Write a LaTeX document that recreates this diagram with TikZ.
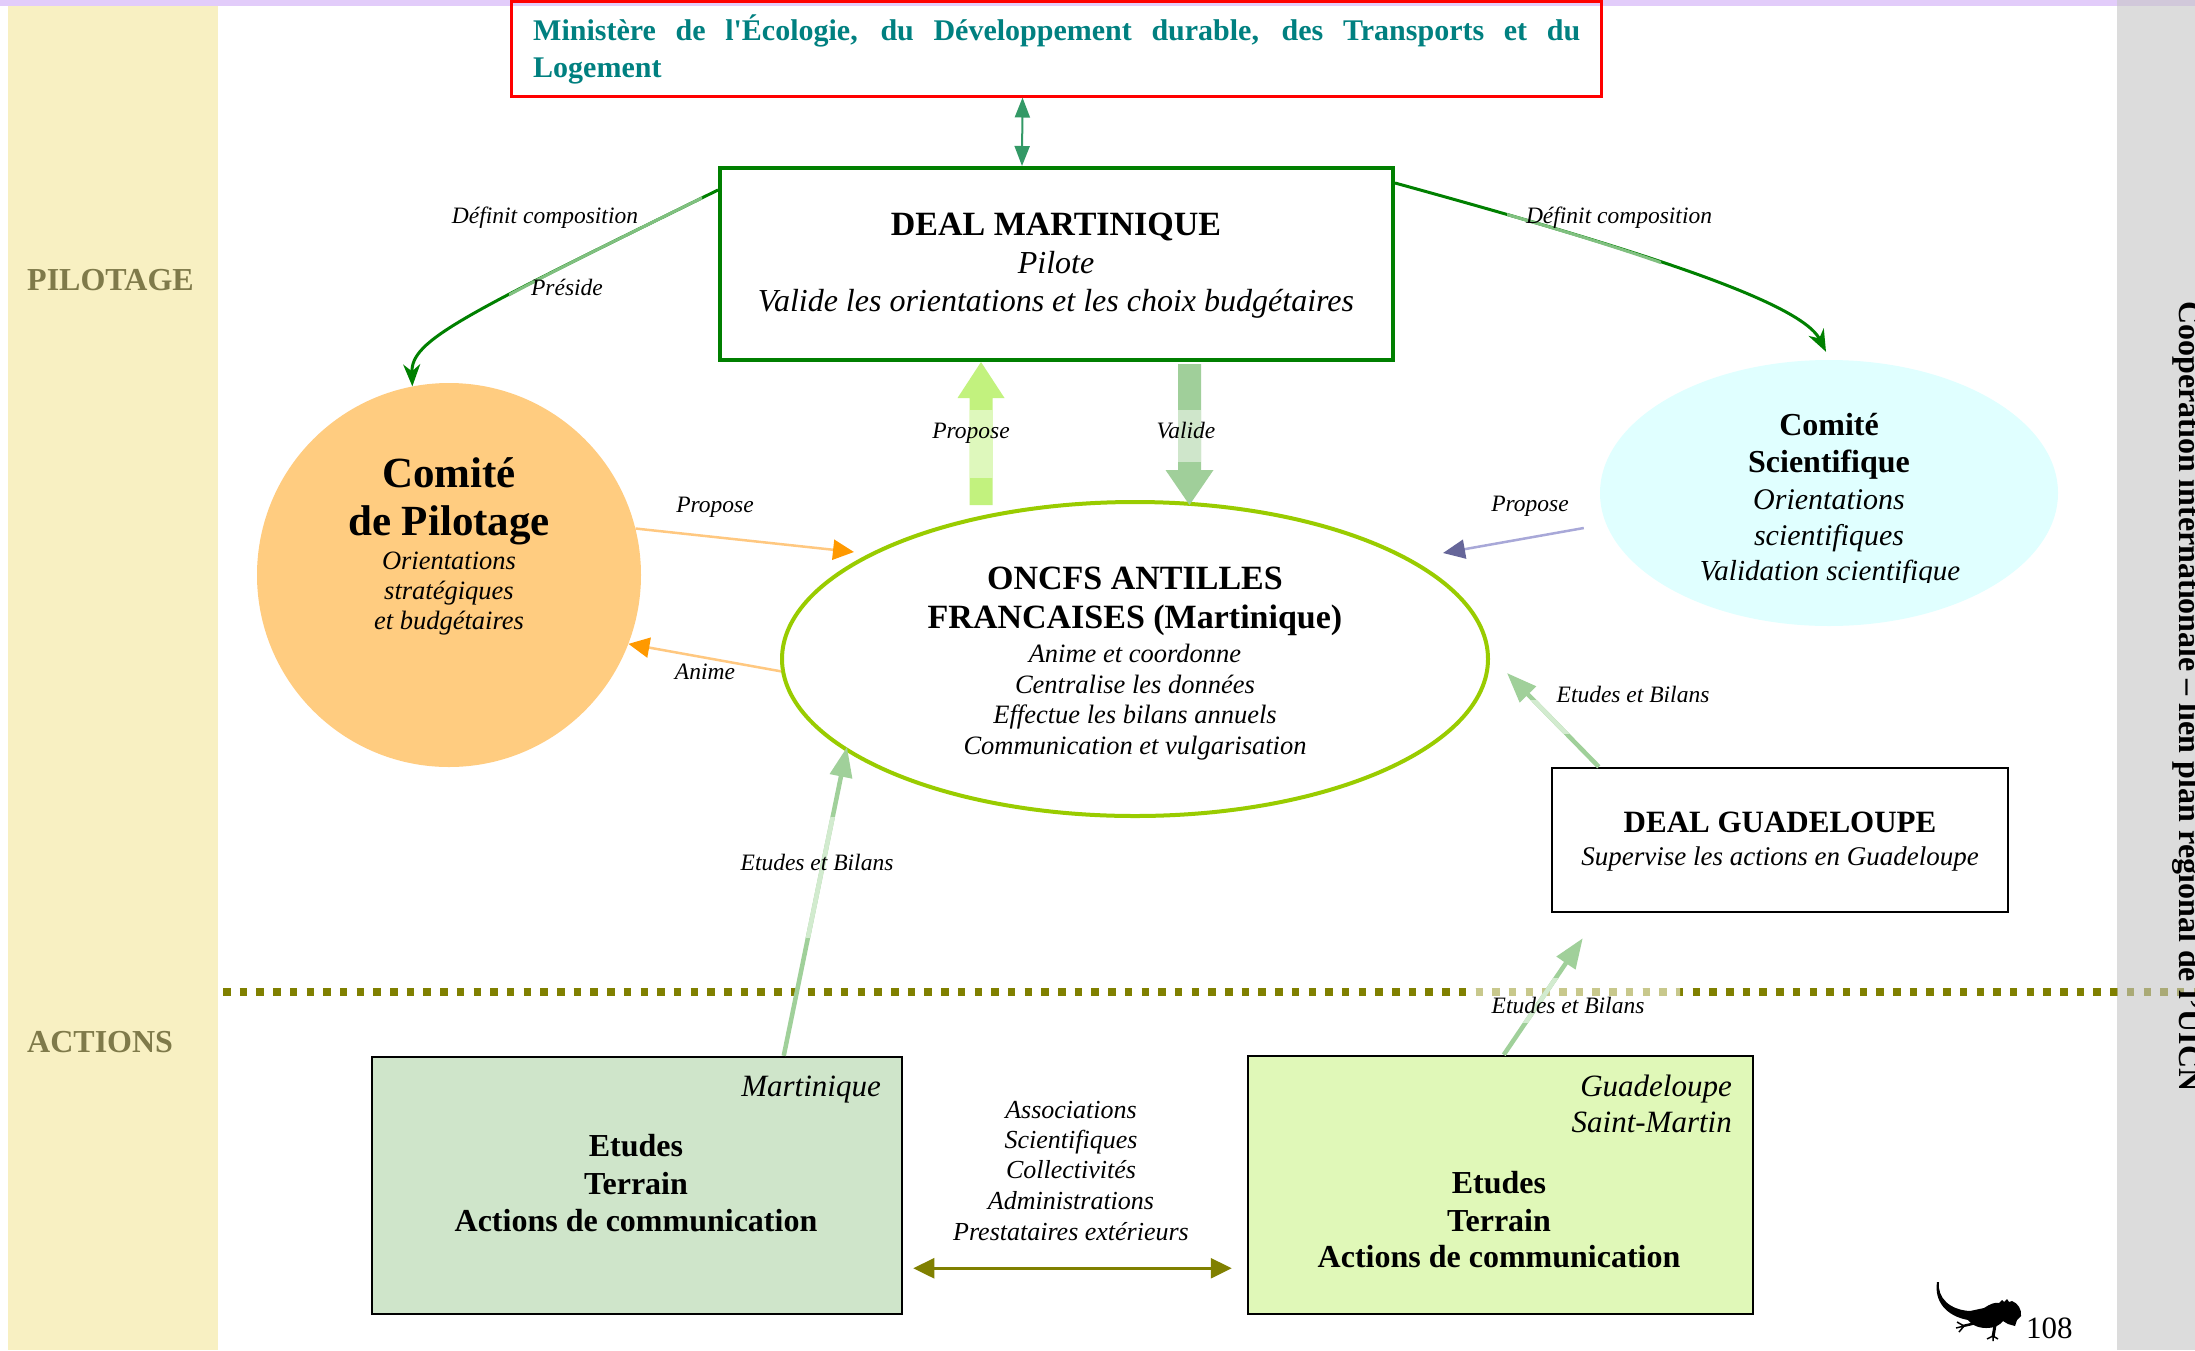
\documentclass[tikz,border=0pt]{standalone}
\usepackage{fontspec}
\setmainfont{Liberation Serif}
\usetikzlibrary{shapes.geometric,arrows.meta,calc}
\newcommand\myfs[2]{\fontsize{#1}{#2}\selectfont}
\definecolor{yband}{HTML}{F8F0C2}
\definecolor{pband}{HTML}{E2CCFA}
\definecolor{gstrip}{HTML}{C6C6C6}
\definecolor{olivec}{HTML}{808000}
\definecolor{olivel}{HTML}{C8C88C}
\definecolor{minred}{HTML}{FF0000}
\definecolor{tealtxt}{HTML}{008080}
\definecolor{dmgreen}{HTML}{007F00}
\definecolor{mdarrow}{HTML}{339966}
\definecolor{cporange}{HTML}{FFCC80}
\definecolor{onyg}{HTML}{99CC00}
\definecolor{cscyan}{HTML}{E0FFFF}
\definecolor{mqfill}{HTML}{CFE5CA}
\definecolor{gdfill}{HTML}{E0F8B8}
\definecolor{curvedark}{HTML}{008000}
\definecolor{curvelight}{HTML}{80C080}
\definecolor{orangedark}{HTML}{FF9900}
\definecolor{orangelight}{HTML}{FFC880}
\definecolor{scidark}{HTML}{666699}
\definecolor{scilight}{HTML}{A8A8D8}
\definecolor{ebdark}{HTML}{A0D09A}
\definecolor{eblight}{HTML}{D2EBCF}
\definecolor{propc}{HTML}{C2F27E}
\definecolor{propl}{HTML}{DEF8BC}
\definecolor{valc}{HTML}{A0CF9A}
\definecolor{vall}{HTML}{CFE6CB}
\definecolor{sidetxt}{HTML}{7F7A4A}
\tikzset{
  txt/.style={inner sep=0pt, anchor=base},
  lbl/.style={inner sep=0pt, anchor=base, font=\myfs{23.5}{28}\itshape},
  boxnode/.style={rectangle, inner sep=0pt},
  sepline/.style={line width=8pt, dash pattern=on 7.5pt off 9.2pt},
  defcurve/.style={curvedark, line width=3pt},
  defcurvel/.style={curvelight, line width=3pt},
  orangearrow/.style={orangelight, line width=2.5pt, -{Triangle[width=20pt,length=21pt,color=orangedark]}},
  sciarrow/.style={scilight, line width=2.5pt, -{Triangle[width=19pt,length=22pt,color=scidark]}},
  ebarrow/.style={ebdark, line width=4.5pt, -{Triangle[width=22pt,length=30pt]}},
  ebl/.style={eblight, line width=4.5pt},
  minarrow/.style={mdarrow, line width=2pt, {Triangle[width=15pt,length=20pt]}-{Triangle[width=15pt,length=20pt]}},
  olivearrow/.style={olivec, line width=2.5pt, {Triangle[width=20pt,length=21pt]}-{Triangle[width=20pt,length=21pt]}},
}
\begin{document}
\begin{tikzpicture}[x=1pt,y=-1pt]
\useasboundingbox (0,0) rectangle (2195,1350);
% background bands
\fill[white] (0,0) rectangle (2195,1350);
\fill[yband] (8,6) rectangle (218,1350);
\fill[pband] (0,0) rectangle (2195,6);
% separator
\draw[sepline, olivec] (223,992) -- (2195,992);
\begin{scope}
  \clip (1470,978) rectangle (1680,1022);
  \draw[sepline, olivel] (223,992) -- (2195,992);
\end{scope}
% right strip
\fill[gstrip, opacity=0.6] (2117,0) rectangle (2195,1350);
\node[rotate=-90, anchor=base west, inner sep=0pt, font=\myfs{32}{36}\bfseries] (strip) at (2179,301) {Coopération internationale – lien plan régional de l’UICN};
% side labels
\node[txt, anchor=base west, text=sidetxt, font=\myfs{32}{36}\bfseries] (pil) at (27,290) {PILOTAGE};
\node[txt, anchor=base west, text=sidetxt, font=\myfs{32}{36}\bfseries] (act) at (27,1052) {ACTIONS};

% main shapes
\node[boxnode, draw=minred, line width=3pt, minimum width=1090pt, minimum height=95pt] (min) at (1056,48.5) {};
\node[boxnode, draw=dmgreen, line width=4pt, minimum width=673pt, minimum height=192pt] (dm) at (1056.5,264) {};
\node[circle, fill=cporange, minimum size=384pt, inner sep=0pt] (cp) at (449,575) {};
\node[ellipse, draw=onyg, fill=white, line width=4pt, minimum width=706pt, minimum height=314pt, inner sep=0pt] (on) at (1135,659) {};
\node[ellipse, fill=cscyan, minimum width=458pt, minimum height=266pt, inner sep=0pt] (cs) at (1829,493) {};
\node[boxnode, draw=black, line width=2.5pt, minimum width=456pt, minimum height=144pt] (dg) at (1780,840) {};
\node[boxnode, draw=black, fill=mqfill, line width=2.5pt, minimum width=530pt, minimum height=257pt] (mq) at (637,1185.5) {};
\node[boxnode, draw=black, fill=gdfill, line width=2.5pt, minimum width=505pt, minimum height=258pt] (gd) at (1500.5,1185) {};

% block arrows DEAL <-> ONCFS
\coordinate (pb) at ($(dm.south west)+(263,143)$);
\fill[propc] ($(pb)+(-11.5,0)$) -- ($(pb)+(-11.5,-107)$) -- ($(pb)+(-23.5,-107)$) -- ($(pb)+(0,-143)$) -- ($(pb)+(23.5,-107)$) -- ($(pb)+(11.5,-107)$) -- ($(pb)+(11.5,0)$) -- cycle;
\fill[propl] ($(pb)+(-11.5,-27)$) rectangle ($(pb)+(11.5,-95)$);
\coordinate (vb) at ($(dm.south west)+(471.5,2)$);
\fill[valc] ($(vb)+(-11.5,0)$) -- ($(vb)+(-11.5,106)$) -- ($(vb)+(-24,106)$) -- ($(vb)+(0,141)$) -- ($(vb)+(24,106)$) -- ($(vb)+(11.5,106)$) -- ($(vb)+(11.5,0)$) -- cycle;
\fill[vall] ($(vb)+(-11.5,46)$) rectangle ($(vb)+(11.5,98)$);

% connectors
\draw[minarrow] ($(min.south west)+(513,0)$) -- ($(dm.north west)+(304,0)$);
\draw[defcurve, -{Stealth[width=17pt,length=22pt,inset=7pt]}] ($(dm.north west)+(0,24)$) .. controls (460,317) and (411,340) .. (cp.101);
\begin{scope}
  \clip (509,150) rectangle (702,300);
  \draw[defcurvel] ($(dm.north west)+(0,24)$) .. controls (460,317) and (411,340) .. (cp.101);
\end{scope}
\draw[defcurve, -{Stealth[width=17pt,length=22pt,inset=7pt]}] ($(dm.north east)+(0,17)$) .. controls (1620,245) and (1800,300) .. ($(cs.north)+(-3,-8)$);
\begin{scope}
  \clip (1507,150) rectangle (1661,300);
  \draw[defcurvel] ($(dm.north east)+(0,17)$) .. controls (1620,245) and (1800,300) .. ($(cs.north)+(-3,-8)$);
\end{scope}
\draw[orangearrow] (cp.14) -- ($(on.west)+(74,-107)$);
\draw[orangearrow] (on.182) -- (cp.-21);
\draw[sciarrow] ($(cs.west)+(-16,35)$) -- ($(on.east)+(-47,-106)$);
\draw[ebarrow] ($(mq.north west)+(413,0)$) -- ($(on.south)+(-288,-71)$);
\begin{scope}
  \clip (700,817) rectangle (900,937);
  \draw[ebl] ($(mq.north west)+(413,0)$) -- ($(on.south)+(-288,-71)$);
\end{scope}
\draw[ebarrow] ($(dg.north west)+(48,0)$) -- ($(on.east)+(17,14)$);
\begin{scope}
  \clip (1480,700) rectangle (1620,733);
  \draw[ebl] ($(dg.north west)+(48,0)$) -- ($(on.east)+(17,14)$);
\end{scope}
\draw[ebarrow] ($(gd.north west)+(257,0)$) -- ($(dg.south west)+(32,25)$);
\begin{scope}
  \clip (1470,978) rectangle (1680,1022);
  \draw[ebl] ($(gd.north west)+(257,0)$) -- ($(dg.south west)+(32,25)$);
\end{scope}
\draw[olivearrow, shorten <=10pt, shorten >=15pt] ($(mq.south east)+(0,-47)$) -- ($(gd.south west)+(0,-47)$);

% texts: Ministère
\node[txt, anchor=base west, text=tealtxt, font=\myfs{30}{36}\bfseries] (min1) at (533,40) {\makebox[1047pt][s]{Ministère de l\textquotesingle Écologie, du Développement durable, des Transports et du}};
\node[txt, anchor=base west, text=tealtxt, font=\myfs{30}{36}\bfseries] (min2) at (533,77) {Logement};
% DEAL Martinique
\node[txt, font=\myfs{34}{40}\bfseries] (dm1) at (1056,235) {DEAL MARTINIQUE};
\node[txt, font=\myfs{32}{38}\itshape] (dm2) at (1056,273) {Pilote};
\node[txt, font=\myfs{32}{38}\itshape] (dm3) at (1056,311) {Valide les orientations et les choix budgétaires};
% Comité de pilotage
\node[txt, font=\myfs{43}{48}\bfseries] (cp1) at (449,487) {Comité};
\node[txt, font=\myfs{43}{48}\bfseries] (cp2) at (449,535) {de Pilotage};
\node[txt, font=\myfs{26.5}{30}\itshape] (cp3) at (449,569) {Orientations};
\node[txt, font=\myfs{26.5}{30}\itshape] (cp4) at (449,599) {stratégiques};
\node[txt, font=\myfs{26.5}{30}\itshape] (cp5) at (449,629) {et budgétaires};
% ONCFS
\node[txt, font=\myfs{34}{40}\bfseries] (on1) at (1135,589) {ONCFS ANTILLES};
\node[txt, font=\myfs{34}{40}\bfseries] (on2) at (1135,628) {FRANCAISES (Martinique)};
\node[txt, font=\myfs{26.5}{30}\itshape] (on3) at (1135,662) {Anime et coordonne};
\node[txt, font=\myfs{26.5}{30}\itshape] (on4) at (1135,693) {Centralise les données};
\node[txt, font=\myfs{26.5}{30}\itshape] (on5) at (1135,723) {Effectue les bilans annuels};
\node[txt, font=\myfs{26.5}{30}\itshape] (on6) at (1135,754) {Communication et vulgarisation};
% Comité scientifique
\node[txt, font=\myfs{32}{36}\bfseries] (cs1) at (1829,435) {Comité};
\node[txt, font=\myfs{32}{36}\bfseries] (cs2) at (1829,472) {Scientifique};
\node[txt, font=\myfs{30}{36}\itshape] (cs3) at (1829,509) {Orientations};
\node[txt, font=\myfs{30}{36}\itshape] (cs4) at (1829,545) {scientifiques};
\begin{scope}
  \clip (1600,540) rectangle (2060,582);
  \node[txt, font=\myfs{29}{36}\itshape] (cs5) at (1830,580) {Validation scientifique};
\end{scope}
% DEAL Guadeloupe
\node[txt, font=\myfs{31}{36}\bfseries] (dg1) at (1780,832) {DEAL GUADELOUPE};
\node[txt, font=\myfs{27}{32}\itshape] (dg2) at (1780,865) {Supervise les actions en Guadeloupe};
% Martinique box
\node[txt, anchor=base east, font=\myfs{31}{36}\itshape] (mq0) at (881,1096) {Martinique};
\node[txt, font=\myfs{32}{38}\bfseries] (mq1) at (636,1156) {Etudes};
\node[txt, font=\myfs{32}{38}\bfseries] (mq2) at (636,1194) {Terrain};
\node[txt, font=\myfs{32}{38}\bfseries] (mq3) at (636,1231) {Actions de communication};
% Guadeloupe box
\node[txt, anchor=base east, font=\myfs{31}{36}\itshape] (gd0) at (1732,1096) {Guadeloupe};
\node[txt, anchor=base east, font=\myfs{31}{36}\itshape] (gd00) at (1732,1132) {Saint-Martin};
\node[txt, font=\myfs{32}{38}\bfseries] (gd1) at (1499,1193) {Etudes};
\node[txt, font=\myfs{32}{38}\bfseries] (gd2) at (1499,1231) {Terrain};
\node[txt, font=\myfs{32}{38}\bfseries] (gd3) at (1499,1267) {Actions de communication};
% partners
\node[txt, font=\myfs{26}{31}\itshape] (pa1) at (1071,1118) {Associations};
\node[txt, font=\myfs{26}{31}\itshape] (pa2) at (1071,1148) {Scientifiques};
\node[txt, font=\myfs{26}{31}\itshape] (pa3) at (1071,1178) {Collectivités};
\node[txt, font=\myfs{26}{31}\itshape] (pa4) at (1071,1209) {Administrations};
\node[txt, font=\myfs{26}{31}\itshape] (pa5) at (1071,1240) {Prestataires extérieurs};
% connector labels
\node[lbl] (lDef1) at (545,223) {Définit composition};
\node[lbl] (lPre) at (567,295) {Préside};
\node[lbl] (lDef2) at (1619,223) {Définit composition};
\node[lbl] (lProp1) at (715,512) {Propose};
\node[lbl] (lAnime) at (705,679) {Anime};
\node[lbl] (lProp2) at (971,438) {Propose};
\node[lbl] (lVal) at (1186,438) {Valide};
\node[lbl] (lProp3) at (1530,511) {Propose};
\node[lbl] (lEB1) at (817,870) {Etudes et Bilans};
\node[lbl] (lEB2) at (1633,702) {Etudes et Bilans};
\node[lbl] (lEB3) at (1568,1013) {Etudes et Bilans};
% iguana logo and page number
\fill[black] (1939,1282) .. controls (1937,1298) and (1950,1310) .. (1970,1311)
  -- (1984,1308) .. controls (1990,1304) and (1995,1302) .. (1999,1303)
  -- (2002,1300) -- (2004,1302) -- (2007,1299) -- (2009,1302) -- (2012,1301)
  .. controls (2018,1303) and (2022,1310) .. (2021,1316)
  -- (2017,1320) -- (2015,1326) -- (2008,1324) -- (2003,1321)
  .. controls (2000,1325) and (1995,1328) .. (1986,1328)
  .. controls (1977,1328) and (1971,1324) .. (1968,1320)
  .. controls (1946,1316) and (1934,1301) .. (1937,1282) -- cycle;
\draw[black, line width=3pt] (1995,1325) -- (1993,1337);
\draw[black, line width=1.5pt] (1993,1336) -- (1987,1339) (1993,1336) -- (1993,1341) (1993,1336) -- (1998,1339);
\draw[black, line width=2.5pt] (1976,1323) -- (1963,1326);
\draw[black, line width=1.5pt] (1964,1326) -- (1957,1322) (1964,1326) -- (1956,1328) (1964,1326) -- (1959,1332);
\node[txt, anchor=base west, font=\myfs{31}{36}] (pg) at (2026,1338) {108};
\end{tikzpicture}
\end{document}
